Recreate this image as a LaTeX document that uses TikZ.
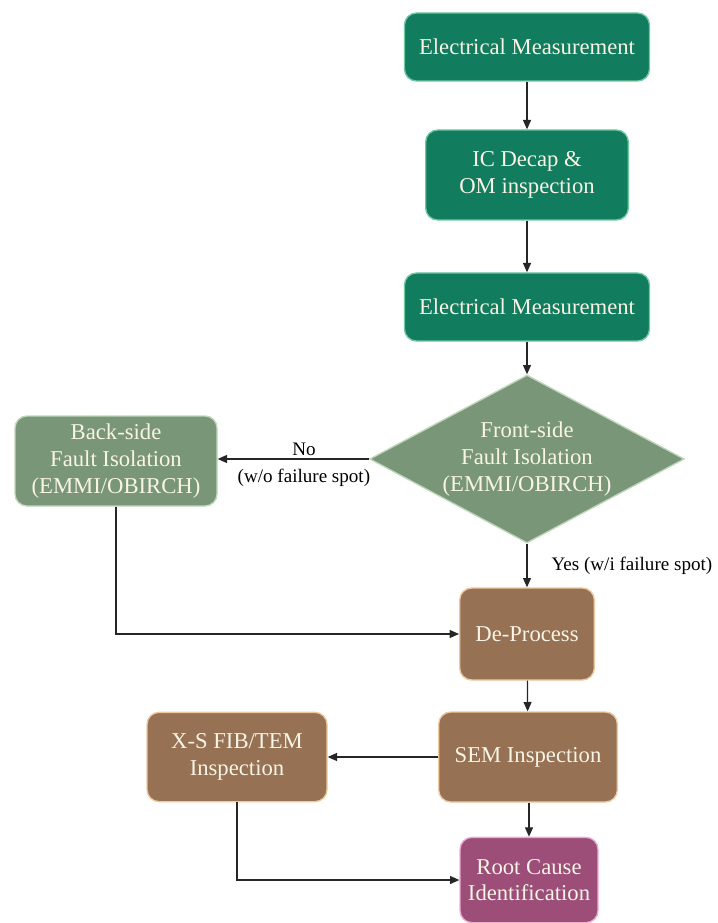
\documentclass[tikz,border=0pt]{standalone}
\usepackage{fontspec}
\setmainfont{Liberation Serif}
\usetikzlibrary{positioning,shapes.geometric,arrows.meta}

\definecolor{measgreen}{RGB}{17,124,94}
\definecolor{measedge}{RGB}{110,200,160}
\definecolor{isogreen}{RGB}{122,150,120}
\definecolor{isoedge}{RGB}{190,215,185}
\definecolor{procbrown}{RGB}{150,113,83}
\definecolor{procedge}{RGB}{240,200,160}
\definecolor{causeplum}{RGB}{156,78,120}
\definecolor{causeedge}{RGB}{235,175,210}
\definecolor{boxtext}{RGB}{248,244,230}

\begin{document}
\begin{tikzpicture}[x=0.75pt,y=-0.75pt,
  stepbox/.style={rounded corners=9pt,align=center,text=boxtext,line width=1pt,
    font=\fontsize{17}{20}\selectfont,inner sep=2pt},
  measbox/.style={stepbox,fill=measgreen,draw=measedge},
  isobox/.style={stepbox,fill=isogreen,draw=isoedge},
  procbox/.style={stepbox,fill=procbrown,draw=procedge},
  causebox/.style={stepbox,fill=causeplum,draw=causeedge},
  arr/.style={-{Triangle[length=7pt,width=6pt]},line width=0.9pt,draw=black!85},
  lbl/.style={font=\fontsize{14.3}{17}\selectfont,inner sep=2pt}]
\useasboundingbox (0,0) rectangle (717,923);

\node[measbox,minimum width=183.75pt,minimum height=51pt] (em1) at (527,47) {Electrical Measurement};
\node[measbox,minimum width=152pt,minimum height=67.5pt] (decap) at (527,175) {IC Decap \&\\OM inspection};
\node[measbox,minimum width=183.75pt,minimum height=51pt] (em2) at (527,307) {Electrical Measurement};
\node[diamond,aspect=1.875,fill=isogreen,draw=isoedge,line width=1pt,text=boxtext,align=center,
  font=\fontsize{17}{20}\selectfont,inner sep=0pt,minimum width=236pt,minimum height=126pt]
  (front) at (527,459) {Front-side\\Fault Isolation\\(EMMI/OBIRCH)};
\node[isobox,minimum width=151.5pt,minimum height=67.5pt] (back) at (116,461) {Back-side\\Fault Isolation\\(EMMI/OBIRCH)};
\node[procbox,minimum width=101pt,minimum height=69pt] (deproc) at (527,634) {De-Process};
\node[procbox,minimum width=134pt,minimum height=67.5pt] (sem) at (528,757) {SEM Inspection};
\node[procbox,minimum width=135pt,minimum height=67pt] (xsfib) at (237,757) {X-S FIB/TEM\\Inspection};
\node[causebox,minimum width=103.5pt,minimum height=64pt] (root) at (529,880) {Root Cause\\Identification};

\draw[arr] (em1) -- (decap);
\draw[arr] (decap) -- (em2);
\draw[arr] (em2) -- (front);
\draw[arr] (front.west) -- node[lbl,pos=0.43,above] {No} node[lbl,pos=0.43,below=5pt] {(w/o failure spot)} (back.east |- front.west);
\draw[arr] (front.south) -- node[lbl,right=16pt] {Yes (w/i failure spot)} (deproc.north);
\draw[arr] (back.south) |- (deproc.west);
\draw[arr] (deproc) -- (sem);
\draw[arr] (sem.west) -- (xsfib.east);
\draw[arr] (sem.south -| root.north) -- (root.north);
\draw[arr] (xsfib.south) |- (root.west);
\end{tikzpicture}
\end{document}
